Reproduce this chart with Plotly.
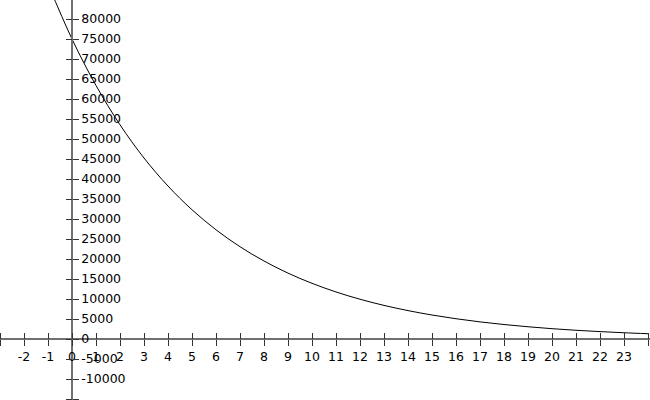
import plotly.graph_objects as go

# Data
x_vals = [-1, 0, 1, 2, 3, 4, 5, 6, 7, 8, 9, 10, 11, 12, 13, 14, 15, 16, 17, 18, 19, 20, 21, 22, 23, 24]
y_vals = [88760, 75000, 63380, 53550, 45250, 38240, 32310, 27300, 23070, 19500, 16470, 13920, 11760,
          9940, 8400, 7100, 6000, 5070, 4280, 3620, 3060, 2580, 2180, 1850, 1560, 1320]

x_ticks = list(range(-3, 25))
x_tick_labels = [str(v) if -2 <= v <= 23 else "" for v in x_ticks]
y_ticks = list(range(-15000, 90000, 5000))
y_tick_labels = [str(v) if -10000 <= v <= 80000 else "" for v in y_ticks]

X_RANGE = [-3, 24.0833]
Y_RANGE = [-15250, 84750]

AXIS_COLOR = "#707070"
TICK_COLOR = "#333333"
FONT = dict(family="DejaVu Sans", size=12.5, color="black")

fig = go.Figure()
fig.add_trace(go.Scatter(x=x_vals, y=y_vals, mode="lines", line=dict(color="black", width=1, shape="spline"),
                         xaxis="x", yaxis="y", showlegend=False, hoverinfo="skip"))
# invisible traces to activate second axes
fig.add_trace(go.Scatter(x=[0], y=[0], mode="markers", marker=dict(opacity=0), xaxis="x2", yaxis="y2",
                         showlegend=False, hoverinfo="skip"))

xpos = (0 - Y_RANGE[0]) / (Y_RANGE[1] - Y_RANGE[0])
ypos = (0 - X_RANGE[0]) / (X_RANGE[1] - X_RANGE[0])

common_x = dict(range=X_RANGE, showgrid=False, zeroline=False, tickvals=x_ticks, ticktext=x_tick_labels,
                tickcolor=TICK_COLOR, ticklen=6, tickwidth=1, linecolor=AXIS_COLOR, linewidth=1.6,
                anchor="free", position=xpos, tickfont=FONT, fixedrange=True, automargin=False)
common_y = dict(range=Y_RANGE, showgrid=False, zeroline=False, tickvals=y_ticks, ticktext=y_tick_labels,
                tickcolor=TICK_COLOR, ticklen=6, tickwidth=1, linecolor=AXIS_COLOR, linewidth=1.6,
                anchor="free", position=ypos, tickfont=FONT, fixedrange=True, automargin=False)

fig.update_layout(
    width=650, height=400,
    margin=dict(l=0, r=0, t=0, b=0, autoexpand=False),
    paper_bgcolor="white", plot_bgcolor="white",
    xaxis=dict(**common_x, showline=True, ticks="outside", side="bottom", showticklabels=True),
    xaxis2=dict(**common_x, showline=False, ticks="outside", side="top", showticklabels=False,
                overlaying="x", matches="x"),
    yaxis=dict(**common_y, showline=True, ticks="outside", side="right", showticklabels=True),
    yaxis2=dict(**common_y, showline=False, ticks="outside", side="left", showticklabels=False,
                overlaying="y", matches="y"),
)

fig.write_html("out.html", post_script="document.body.style.margin='0';",
               config={"displayModeBar": False})
